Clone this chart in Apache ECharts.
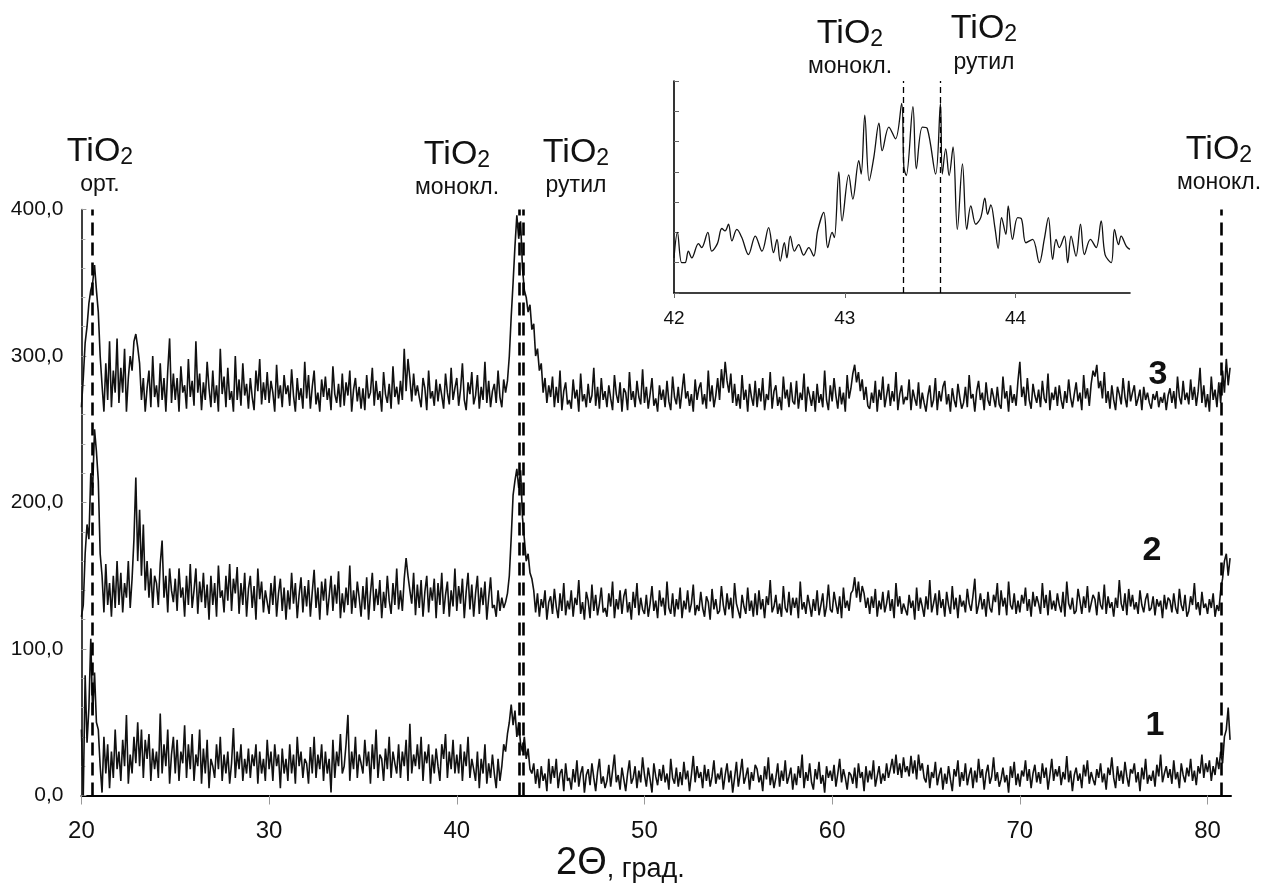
<!DOCTYPE html>
<html>
<head>
<meta charset="utf-8">
<script src="https://cdn.jsdelivr.net/npm/echarts/dist/echarts.min.js"></script>
<style>
  html, body { margin: 0; padding: 0; background: #fff; }
  #xrd { width: 1266px; height: 884px; }
</style>
</head>
<body>
<div id="xrd"></div>
<script>
// 2Θ scan: one row per degree, 0.1° step, starting at 20.0
var THETA0 = 20;
var STEP = 0.1;

// pattern 1 (bottom)
var pattern1 = [
  [45, 0, 82, 36, 60, 107, 55, 84, 50, 45],
  [20, 2, 40, 15, 35, 5, 30, 12, 45, 18],
  [30, 10, 38, 20, 55, 8, 28, 15, 40, 22],
  [50, 20, 45, 12, 38, 25, 42, 10, 32, 18],
  [30, 12, 56, 15, 35, 20, 45, 8, 28, 40],
  [15, 38, 10, 30, 22, 48, 12, 35, 18, 42],
  [10, 28, 20, 45, 8, 32, 15, 38, 5, 25],
  [20, 12, 35, 18, 40, 10, 28, 15, 30, 8],
  [22, 46, 12, 30, 18, 35, 10, 25, 15, 32],
  [12, 28, 20, 35, 8, 30, 15, 25, 10, 38],
  [18, 30, 10, 35, 20, 28, 5, 32, 15, 25],
  [10, 35, 15, 28, 8, 40, 20, 30, 12, 25],
  [22, 8, 33, 15, 40, 12, 28, 18, 35, 10],
  [30, 15, 25, 2, 38, 12, 30, 20, 42, 15],
  [20, 35, 55, 10, 30, 18, 40, 12, 28, 22],
  [15, 38, 20, 30, 8, 35, 18, 45, 12, 28],
  [25, 10, 32, 18, 40, 12, 30, 22, 15, 35],
  [12, 30, 20, 38, 10, 49, 15, 28, 20, 35],
  [18, 40, 10, 30, 22, 35, 8, 28, 15, 32],
  [20, 10, 35, 25, 42, 12, 30, 18, 38, 15],
  [28, 15, 35, 10, 30, 20, 40, 12, 25, 18],
  [10, 30, 5, 25, 15, 35, 8, 22, 12, 28],
  [15, 5, 25, 10, 20, 35, 30, 42, 50, 62],
  [48, 58, 40, 50, 35, 30, 40, 25, 32, 18],
  [15, 22, 8, 18, 5, 20, 10, 15, 3, 25],
  [8, 20, 12, 25, 5, 15, 18, 3, 22, 10],
  [12, 4, 18, 9, 24, 6, 15, 20, 2, 14],
  [18, 7, 22, 12, 3, 16, 25, 8, 13, 5],
  [10, 21, 6, 17, 28, 9, 14, 4, 19, 11],
  [3, 15, 24, 8, 12, 20, 5, 17, 9, 26],
  [14, 6, 19, 11, 2, 22, 13, 7, 18, 10],
  [21, 9, 15, 4, 25, 12, 8, 19, 6, 16],
  [7, 23, 11, 17, 3, 14, 27, 9, 20, 12],
  [16, 5, 21, 10, 18, 6, 13, 24, 8, 15],
  [11, 19, 4, 14, 22, 9, 17, 2, 12, 23],
  [6, 15, 25, 8, 13, 19, 4, 16, 10, 21],
  [18, 9, 14, 3, 20, 11, 26, 7, 15, 5],
  [12, 22, 6, 17, 10, 24, 8, 13, 19, 4],
  [15, 7, 20, 12, 28, 5, 16, 10, 22, 9],
  [4, 18, 11, 23, 8, 14, 2, 20, 12, 17],
  [10, 21, 6, 15, 25, 9, 18, 12, 4, 16],
  [14, 8, 19, 5, 22, 12, 16, 3, 20, 9],
  [17, 11, 24, 6, 13, 20, 8, 15, 10, 22],
  [12, 18, 25, 15, 28, 14, 22, 12, 26, 16],
  [20, 13, 27, 15, 24, 11, 28, 17, 22, 12],
  [9, 21, 5, 16, 12, 23, 7, 14, 19, 4],
  [15, 8, 20, 11, 3, 18, 13, 24, 6, 16],
  [10, 22, 7, 14, 19, 5, 17, 9, 25, 12],
  [18, 4, 15, 21, 8, 13, 26, 10, 16, 6],
  [11, 19, 9, 14, 2, 20, 12, 23, 7, 15],
  [6, 17, 13, 24, 10, 18, 5, 15, 21, 9],
  [16, 8, 22, 12, 19, 4, 14, 25, 10, 18],
  [13, 20, 7, 16, 11, 27, 9, 17, 3, 14],
  [19, 10, 15, 5, 21, 13, 24, 8, 16, 11],
  [7, 18, 12, 22, 9, 15, 4, 19, 14, 26],
  [12, 5, 20, 10, 17, 8, 23, 13, 6, 18],
  [15, 22, 9, 16, 3, 19, 11, 25, 8, 14],
  [10, 17, 6, 21, 13, 28, 9, 15, 20, 12],
  [18, 8, 24, 11, 16, 5, 22, 14, 9, 19],
  [13, 25, 10, 17, 7, 20, 15, 28, 12, 22],
  [16, 24, 10, 20, 14, 26, 18, 30, 22, 40],
  [45, 60, 38]
];

// pattern 2 (middle)
var pattern2 = [
  [122, 130, 165, 185, 175, 220, 210, 250, 235, 215],
  [165, 150, 125, 158, 130, 145, 122, 150, 128, 160],
  [130, 152, 125, 145, 135, 160, 128, 148, 175, 217],
  [160, 195, 150, 185, 140, 160, 135, 155, 128, 150],
  [145, 130, 158, 174, 135, 150, 125, 155, 140, 132],
  [148, 126, 155, 135, 142, 122, 150, 130, 158, 128],
  [140, 155, 124, 146, 132, 152, 128, 144, 120, 150],
  [130, 145, 122, 157, 135, 140, 125, 150, 133, 158],
  [126, 148, 138, 156, 124, 145, 130, 152, 122, 141],
  [150, 128, 143, 120, 155, 134, 146, 125, 140, 132],
  [124, 145, 130, 150, 122, 138, 148, 126, 142, 120],
  [140, 127, 152, 131, 145, 121, 137, 149, 125, 143],
  [129, 147, 122, 139, 154, 128, 142, 120, 146, 133],
  [148, 123, 136, 150, 126, 144, 131, 153, 121, 138],
  [125, 142, 130, 157, 124, 140, 128, 146, 135, 122],
  [143, 127, 149, 120, 138, 152, 126, 141, 130, 147],
  [121, 139, 128, 150, 133, 124, 145, 130, 155, 127],
  [140, 126, 148, 162, 150, 140, 131, 152, 123, 144],
  [128, 147, 122, 139, 150, 125, 142, 133, 148, 121],
  [145, 130, 152, 124, 137, 146, 122, 140, 129, 155],
  [126, 143, 131, 148, 121, 139, 152, 127, 144, 122],
  [138, 150, 124, 142, 130, 146, 120, 135, 149, 128],
  [130, 122, 140, 126, 135, 128, 132, 138, 150, 176],
  [205, 215, 223, 210, 222, 190, 175, 160, 165, 152],
  [148, 140, 125, 138, 122, 134, 128, 140, 120, 132],
  [136, 124, 141, 129, 121, 138, 126, 145, 123, 133],
  [127, 140, 122, 135, 130, 147, 124, 132, 120, 139],
  [133, 121, 144, 126, 137, 123, 131, 142, 125, 128],
  [122, 138, 129, 146, 121, 134, 127, 140, 124, 136],
  [141, 125, 132, 120, 139, 128, 145, 123, 135, 127],
  [124, 137, 122, 131, 143, 126, 133, 121, 140, 129],
  [135, 123, 146, 128, 124, 138, 122, 134, 127, 142],
  [121, 133, 127, 140, 125, 131, 144, 123, 130, 126],
  [139, 128, 122, 136, 132, 120, 141, 127, 134, 124],
  [126, 143, 130, 123, 138, 127, 135, 121, 145, 131],
  [132, 121, 137, 129, 124, 142, 126, 133, 122, 138],
  [123, 140, 127, 134, 121, 136, 130, 147, 125, 129],
  [137, 124, 131, 122, 143, 128, 125, 139, 123, 135],
  [128, 135, 121, 146, 127, 132, 124, 137, 130, 122],
  [134, 126, 140, 123, 130, 138, 122, 129, 144, 127],
  [125, 139, 131, 124, 136, 121, 142, 128, 133, 126],
  [138, 140, 149, 135, 146, 132, 143, 138, 128, 135],
  [124, 136, 128, 141, 122, 133, 127, 139, 125, 131],
  [140, 126, 134, 121, 145, 129, 136, 124, 131, 127],
  [123, 137, 128, 133, 120, 142, 126, 135, 129, 122],
  [136, 127, 147, 125, 131, 138, 123, 140, 128, 134],
  [122, 139, 130, 124, 143, 127, 135, 121, 137, 129],
  [133, 125, 141, 131, 126, 136, 148, 124, 130, 138],
  [127, 134, 122, 139, 128, 125, 137, 132, 145, 123],
  [140, 129, 135, 123, 146, 130, 127, 138, 124, 133],
  [125, 137, 131, 142, 126, 134, 122, 139, 129, 136],
  [131, 124, 145, 128, 137, 123, 140, 127, 133, 126],
  [138, 130, 125, 139, 122, 146, 131, 127, 135, 124],
  [126, 141, 133, 124, 136, 128, 143, 125, 131, 137],
  [134, 123, 139, 130, 127, 144, 124, 136, 128, 132],
  [122, 135, 128, 147, 131, 126, 138, 123, 141, 129],
  [137, 127, 132, 124, 140, 130, 125, 134, 138, 126],
  [128, 136, 123, 134, 129, 133, 121, 137, 127, 135],
  [133, 125, 138, 128, 124, 141, 130, 126, 137, 122],
  [126, 136, 130, 145, 127, 132, 123, 139, 128, 131],
  [124, 134, 128, 138, 122, 130, 126, 140, 148, 160],
  [165, 150, 162]
];

// pattern 3 (top)
var pattern3 = [
  [265, 285, 309, 320, 336, 345, 350, 362, 345, 330],
  [300, 280, 262, 295, 270, 310, 265, 290, 275, 312],
  [268, 292, 275, 305, 262, 285, 300, 290, 310, 315],
  [306, 295, 270, 285, 262, 278, 290, 265, 300, 272],
  [280, 265, 295, 270, 285, 262, 290, 312, 268, 288],
  [270, 285, 262, 293, 275, 280, 264, 298, 272, 283],
  [266, 310, 275, 288, 263, 282, 270, 296, 278, 265],
  [290, 268, 280, 262, 305, 274, 286, 265, 292, 270],
  [276, 262, 300, 270, 284, 266, 295, 273, 281, 264],
  [285, 272, 263, 290, 276, 298, 267, 282, 270, 289],
  [268, 283, 275, 262, 294, 271, 280, 265, 287, 274],
  [280, 266, 291, 273, 262, 285, 270, 278, 264, 296],
  [271, 287, 264, 279, 290, 267, 275, 262, 284, 272],
  [286, 270, 278, 263, 293, 274, 268, 281, 265, 288],
  [266, 282, 273, 290, 262, 277, 285, 269, 279, 264],
  [278, 263, 287, 271, 275, 292, 266, 283, 270, 276],
  [262, 289, 274, 268, 281, 264, 293, 272, 279, 267],
  [283, 270, 305, 276, 298, 285, 269, 288, 273, 280],
  [272, 265, 285, 278, 263, 290, 271, 276, 266, 284],
  [269, 281, 273, 264, 288, 275, 267, 292, 270, 278],
  [285, 266, 277, 295, 270, 263, 282, 274, 289, 267],
  [273, 287, 264, 279, 270, 296, 268, 283, 265, 276],
  [281, 268, 290, 272, 265, 284, 275, 283, 300, 327],
  [350, 375, 396, 380, 392, 360, 345, 340, 330, 335],
  [318, 322, 300, 305, 290, 295, 275, 285, 268, 280],
  [272, 286, 265, 279, 268, 290, 263, 276, 282, 267],
  [270, 264, 284, 271, 277, 262, 288, 269, 274, 265],
  [281, 268, 273, 292, 266, 279, 264, 285, 270, 276],
  [265, 280, 271, 263, 287, 274, 268, 282, 262, 278],
  [275, 263, 289, 270, 276, 265, 283, 272, 267, 291],
  [268, 279, 264, 274, 285, 266, 271, 262, 280, 270],
  [277, 265, 283, 269, 263, 286, 272, 267, 279, 264],
  [263, 288, 271, 276, 266, 274, 262, 284, 270, 278],
  [282, 267, 274, 264, 290, 269, 280, 265, 273, 285],
  [270, 291, 278, 296, 283, 275, 288, 268, 281, 266],
  [274, 264, 287, 270, 277, 262, 281, 272, 266, 283],
  [265, 278, 269, 285, 263, 274, 270, 289, 264, 276],
  [280, 266, 272, 263, 286, 271, 277, 265, 282, 269],
  [267, 283, 264, 275, 270, 288, 262, 279, 273, 266],
  [276, 262, 281, 268, 274, 265, 290, 270, 263, 280],
  [269, 285, 273, 264, 279, 267, 275, 262, 287, 271],
  [278, 288, 294, 282, 289, 276, 284, 270, 279, 266],
  [264, 275, 268, 283, 262, 277, 270, 286, 265, 273],
  [281, 266, 276, 269, 289, 263, 274, 280, 267, 272],
  [270, 284, 263, 277, 271, 266, 282, 264, 275, 268],
  [262, 273, 280, 265, 270, 285, 263, 276, 269, 279],
  [283, 267, 274, 262, 278, 270, 265, 281, 272, 264],
  [268, 279, 265, 287, 271, 274, 262, 276, 283, 270],
  [275, 263, 282, 270, 266, 278, 272, 265, 279, 267],
  [264, 286, 271, 276, 262, 280, 268, 274, 266, 283],
  [296, 272, 279, 266, 285, 270, 264, 281, 273, 268],
  [277, 265, 283, 271, 268, 288, 263, 275, 270, 279],
  [266, 280, 270, 264, 276, 268, 284, 272, 265, 274],
  [282, 269, 275, 263, 287, 271, 278, 266, 281, 290],
  [286, 294, 278, 283, 271, 289, 268, 276, 264, 280],
  [270, 263, 279, 274, 267, 285, 272, 265, 283, 269],
  [275, 280, 266, 271, 277, 263, 279, 270, 275, 268],
  [264, 274, 270, 276, 265, 272, 268, 275, 263, 273],
  [278, 268, 276, 264, 286, 272, 267, 283, 270, 275],
  [267, 284, 270, 279, 266, 276, 292, 268, 280, 265],
  [274, 262, 286, 270, 277, 265, 282, 268, 290, 275],
  [298, 280, 292]
];

// inset: fine scan of the 42-44.7° region (arbitrary units)
var insetTheta = [42.000, 42.020, 42.045, 42.065, 42.084, 42.104, 42.143, 42.162, 42.198, 42.221,
  42.254, 42.280, 42.299, 42.319, 42.339, 42.368, 42.397, 42.436, 42.476, 42.515,
  42.554, 42.583, 42.603, 42.622, 42.646, 42.661, 42.681, 42.705, 42.730, 42.759,
  42.789, 42.818, 42.841, 42.877, 42.900, 42.926, 42.939, 42.965, 42.984, 43.023,
  43.047, 43.082, 43.096, 43.117, 43.143, 43.170, 43.200, 43.219, 43.258, 43.297,
  43.333, 43.346, 43.360, 43.399, 43.419, 43.454, 43.483, 43.532, 43.560, 43.571,
  43.591, 43.611, 43.634, 43.659, 43.689, 43.714, 43.738, 43.767, 43.796, 43.820,
  43.836, 43.855, 43.879, 43.898, 43.918, 43.943, 43.957, 43.982, 44.012, 44.035,
  44.061, 44.100, 44.139, 44.168, 44.192, 44.217, 44.237, 44.256, 44.286, 44.305,
  44.325, 44.354, 44.380, 44.403, 44.438, 44.472, 44.501, 44.524, 44.560, 44.579,
  44.603, 44.618, 44.648, 44.669];
var insetCounts = [1.16, 2.0, 1.0, 1.0, 1.38, 1.16, 1.63, 1.5, 2.0, 1.38,
  1.63, 2.13, 2.05, 2.27, 1.72, 2.1, 1.83, 1.27, 1.88, 1.38,
  2.16, 1.33, 1.77, 1.05, 1.66, 1.16, 1.88, 1.38, 1.6, 1.25,
  1.5, 1.22, 2.05, 2.66, 1.5, 2.0, 1.83, 4.0, 2.38, 3.9,
  3.1, 4.37, 3.93, 5.87, 3.71, 4.48, 5.61, 4.7, 5.48, 5.09,
  6.26, 4.15, 3.88, 6.15, 4.1, 5.48, 5.43, 3.93, 6.26, 3.93,
  4.76, 3.88, 4.82, 2.1, 4.26, 2.1, 2.88, 2.27, 2.49, 3.13,
  2.6, 2.91, 2.16, 1.47, 2.49, 1.94, 2.88, 1.77, 2.49, 2.44,
  1.66, 1.77, 1.0, 1.77, 2.49, 1.11, 1.77, 1.5, 1.88, 1.0,
  1.88, 1.22, 2.27, 1.27, 1.77, 1.5, 2.38, 1.27, 1.0, 2.1,
  1.6, 1.88, 1.55, 1.44];

// reference phase positions, degrees
var mainPeaks = [20.56, 43.33, 43.53, 80.72];
var insetPeaks = [43.34, 43.56];
var xTicks = [20, 30, 40, 50, 60, 70, 80];
var insetTicks = [42, 43, 44];

function toPairs(rows) {
  var out = [];
  rows.forEach(function (row, i) {
    row.forEach(function (v, j) {
      out.push([+(THETA0 + i + j * STEP).toFixed(1), v]);
    });
  });
  return out;
}

var FONT = "'Liberation Sans', Arial, sans-serif";
var INK = '#111';

function trace(rows) {
  return {
    type: 'line', xAxisIndex: 0, yAxisIndex: 0,
    data: toPairs(rows), showSymbol: false, symbol: 'none',
    sampling: null, animation: false, silent: true, clip: false,
    lineStyle: { color: INK, width: 1.6 }
  };
}

function phaseLabel(cx, cy, sub, subY) {
  return [
    { type: 'text', x: cx, y: cy, silent: true,
      style: { text: '{a|TiO}{b|2}', align: 'center', verticalAlign: 'middle', fill: INK,
        rich: { a: { fontSize: 34, fontFamily: FONT, fill: INK, verticalAlign: 'bottom', lineHeight: 38 },
                b: { fontSize: 23, fontFamily: FONT, fill: INK, verticalAlign: 'bottom', lineHeight: 38 } } } },
    { type: 'text', x: cx, y: subY, silent: true,
      style: { text: sub, align: 'center', verticalAlign: 'middle', fill: INK, font: '23px ' + FONT } }
  ];
}

var chart = echarts.init(document.getElementById('xrd'));

var s1 = trace(pattern1);
s1.markLine = {
  symbol: ['none', 'none'], silent: true, animation: false,
  label: { show: false },
  lineStyle: { color: '#000', width: 2.6, type: [13, 7] },
  data: mainPeaks.map(function (x) { return [{ coord: [x, 0] }, { coord: [x, 400] }]; })
};

var graphics = []
  .concat(phaseLabel(100, 150, 'орт.', 185))
  .concat(phaseLabel(457, 153, 'монокл.', 188))
  .concat(phaseLabel(576, 151, 'рутил', 186))
  .concat(phaseLabel(1219, 148, 'монокл.', 183))
  .concat(phaseLabel(850, 32, 'монокл.', 67))
  .concat(phaseLabel(984, 27, 'рутил', 63));

[['3', 1158, 375], ['2', 1152, 551], ['1', 1155, 726]].forEach(function (n) {
  graphics.push({ type: 'text', x: n[1], y: n[2], silent: true,
    style: { text: n[0], align: 'center', verticalAlign: 'middle', fill: INK,
      font: 'bold 34px ' + FONT } });
});

graphics.push({ type: 'text', x: 556, y: 862, silent: true,
  style: { text: '{a|2Θ}{b|, град.}', align: 'left', verticalAlign: 'middle', fill: INK,
    rich: { a: { fontSize: 38, fontFamily: FONT, fill: INK, verticalAlign: 'bottom', lineHeight: 42 },
            b: { fontSize: 27, fontFamily: FONT, fill: INK, verticalAlign: 'bottom', lineHeight: 42 } } } });

var option = {
  backgroundColor: '#fff',
  animation: false,
  grid: [
    { left: 81.4, top: 209.5, width: 1149.6, height: 586, outerBoundsMode: 'none' },
    { left: 674, top: 81, width: 456, height: 212, outerBoundsMode: 'none' }
  ],
  xAxis: [
    { type: 'value', gridIndex: 0, min: 20, max: 81.25,
      axisLine: { lineStyle: { color: '#000', width: 2 } },
      axisTick: { show: true, inside: false, length: 9, customValues: xTicks, lineStyle: { color: '#999', width: 1 } },
      axisLabel: { customValues: xTicks, margin: 24, color: INK, fontSize: 24, fontFamily: FONT },
      splitLine: { show: false } },
    { type: 'value', gridIndex: 1, min: 42, max: 44.67,
      axisLine: { lineStyle: { color: '#000', width: 1.6 } },
      axisTick: { show: true, inside: false, length: 5, customValues: insetTicks, lineStyle: { color: '#666', width: 1 } },
      axisLabel: { customValues: insetTicks, margin: 16, color: INK, fontSize: 19, fontFamily: FONT },
      splitLine: { show: false } }
  ],
  yAxis: [
    { type: 'value', gridIndex: 0, min: 0, max: 400, interval: 100,
      axisLine: { show: true, lineStyle: { color: '#000', width: 1.5 } },
      axisTick: { show: true, inside: true, length: 5, lineStyle: { color: '#999', width: 1 } },
      minorTick: { show: true, splitNumber: 5, length: 4, lineStyle: { color: '#aaa', width: 1 } },
      axisLabel: { margin: 18, color: INK, fontSize: 21, fontFamily: FONT,
        formatter: function (v) { return v.toFixed(1).replace('.', ','); } },
      splitLine: { show: false } },
    { type: 'value', gridIndex: 1, min: 0, max: 7, interval: 1,
      axisLine: { show: true, lineStyle: { color: '#000', width: 1.6 } },
      axisTick: { show: true, inside: true, length: 5, lineStyle: { color: '#666', width: 1 } },
      axisLabel: { show: false },
      splitLine: { show: false } }
  ],
  series: [
    s1,
    trace(pattern2),
    trace(pattern3),
    { type: 'line', xAxisIndex: 1, yAxisIndex: 1, clip: false,
      data: insetTheta.map(function (t, i) { return [t, insetCounts[i]]; }),
      smooth: 0.35, showSymbol: false, symbol: 'none', animation: false, silent: true,
      lineStyle: { color: INK, width: 1.3 },
      markLine: {
        symbol: ['none', 'none'], silent: true, animation: false,
        label: { show: false },
        lineStyle: { color: '#000', width: 1.3, type: [6, 4] },
        data: insetPeaks.map(function (x) { return [{ coord: [x, 0] }, { coord: [x, 7] }]; })
      } }
  ],
  graphic: graphics
};

chart.setOption(option);
</script>
</body>
</html>
